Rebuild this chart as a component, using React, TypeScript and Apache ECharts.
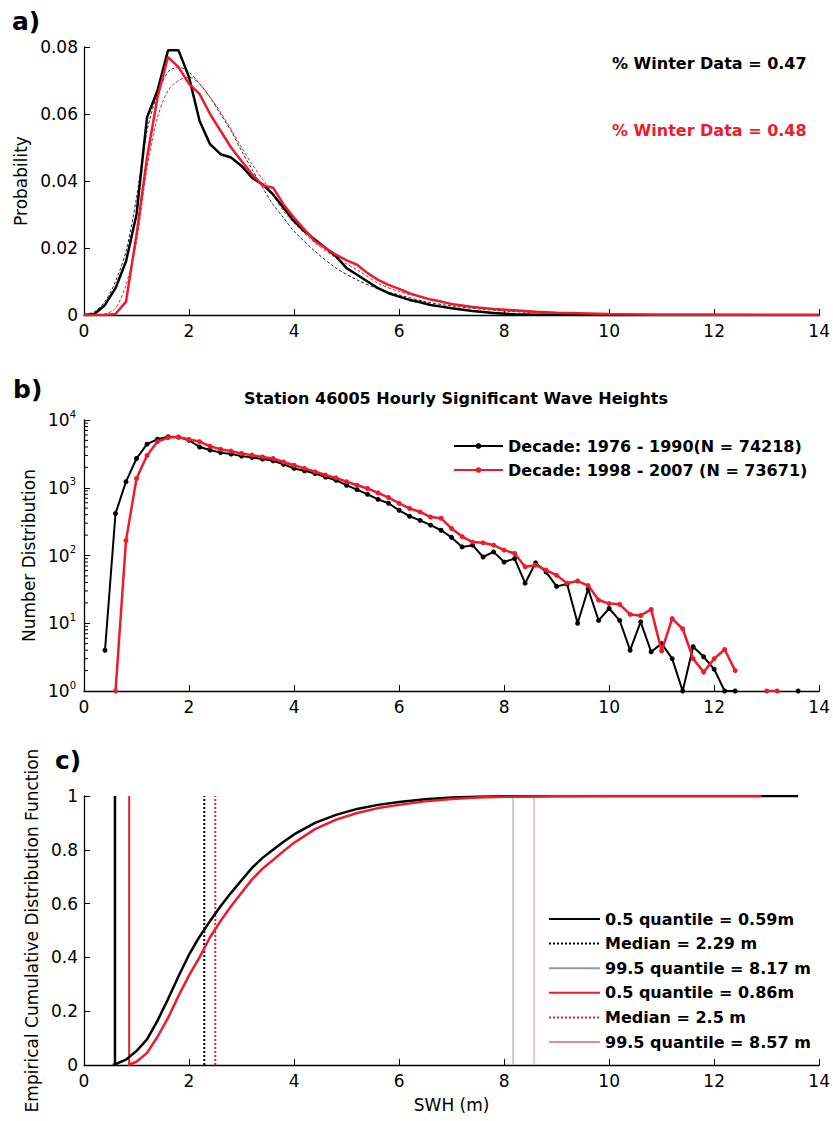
import React, { useEffect, useRef } from "react";
import * as echarts from "echarts";

const FONT = '"DejaVu Sans", sans-serif';
const RED = "#ee1b2c";

// ---- Panel a: probability distributions ----
const A_EMP_X = [0, 0.2, 0.4, 0.6, 0.8, 1.0, 1.2, 1.4, 1.6, 1.8, 2.0, 2.2, 2.4, 2.6, 2.8, 3.0, 3.2, 3.4, 3.6, 3.8, 4.0, 4.2, 4.4, 4.6, 4.8, 5.0, 5.2, 5.4, 5.6, 5.8, 6.0, 6.2, 6.4, 6.6, 6.8, 7.0, 7.4, 7.8, 8.2, 8.6, 9, 10, 11, 12, 13, 14];
const A_BLACK = [0, 0.0003, 0.003, 0.008, 0.016, 0.030, 0.059, 0.067, 0.079, 0.079, 0.071, 0.058, 0.051, 0.048, 0.047, 0.0445, 0.041, 0.039, 0.036, 0.032, 0.028, 0.025, 0.0225, 0.020, 0.0175, 0.014, 0.012, 0.010, 0.008, 0.0065, 0.0055, 0.0045, 0.0038, 0.003, 0.0025, 0.002, 0.0012, 0.0006, 0.0002, 0.0001, 0.00005, 0, 0, 0, 0, 0];
const A_RED = [0, 0, 0, 0.0003, 0.004, 0.024, 0.047, 0.065, 0.077, 0.074, 0.069, 0.066, 0.060, 0.055, 0.050, 0.046, 0.042, 0.0387, 0.038, 0.033, 0.029, 0.0255, 0.022, 0.020, 0.018, 0.0163, 0.015, 0.0125, 0.0105, 0.009, 0.0078, 0.0065, 0.0055, 0.0046, 0.004, 0.0033, 0.0024, 0.0018, 0.0014, 0.001, 0.0007, 0.0003, 0.0001, 0.00005, 0, 0];
const A_FIT_X = [0, 0.2, 0.4, 0.6, 0.8, 1.0, 1.2, 1.4, 1.6, 1.8, 2.0, 2.2, 2.4, 2.6, 2.8, 3.0, 3.2, 3.4, 3.6, 3.8, 4.0, 4.4, 4.8, 5.2, 5.6, 6.0, 6.5, 7, 8, 9, 10, 11, 12, 14];
const A_FIT_BLACK = [0, 0.001, 0.004, 0.010, 0.019, 0.035, 0.055, 0.066, 0.0725, 0.074, 0.0725, 0.069, 0.065, 0.060, 0.055, 0.049, 0.0435, 0.038, 0.033, 0.029, 0.025, 0.019, 0.014, 0.0105, 0.0078, 0.006, 0.004, 0.0027, 0.0012, 0.0005, 0.0002, 0.0001, 0, 0];
const A_FIT_RED = [0, 0, 0.0003, 0.002, 0.009, 0.022, 0.044, 0.059, 0.067, 0.070, 0.071, 0.069, 0.065, 0.0605, 0.0555, 0.050, 0.045, 0.0405, 0.036, 0.031, 0.0275, 0.0215, 0.017, 0.0135, 0.0095, 0.007, 0.005, 0.0033, 0.0014, 0.0006, 0.0002, 0.0001, 0, 0];
const WINTER_TEXTS = ["% Winter Data = 0.47", "% Winter Data = 0.48"];

// ---- Panel b: number distribution (log) ----
const B_X = [0.4, 0.6, 0.8, 1.0, 1.2, 1.4, 1.6, 1.8, 2.0, 2.2, 2.4, 2.6, 2.8, 3.0, 3.2, 3.4, 3.6, 3.8, 4.0, 4.2, 4.4, 4.6, 4.8, 5.0, 5.2, 5.4, 5.6, 5.8, 6.0, 6.2, 6.4, 6.6, 6.8, 7.0, 7.2, 7.4, 7.6, 7.8, 8.0, 8.2, 8.4, 8.6, 8.8, 9.0, 9.2, 9.4, 9.6, 9.8, 10.0, 10.2, 10.4, 10.6, 10.8, 11.0, 11.2, 11.4, 11.6, 11.8, 12.0, 12.2, 12.4, 12.6, 12.8, 13.0, 13.2, 13.4, 13.6];
const B_BLACK = [4, 417, 1230, 2700, 4400, 5200, 5660, 5600, 5030, 4000, 3600, 3300, 3150, 2930, 2800, 2650, 2500, 2220, 1930, 1780, 1620, 1440, 1290, 1090, 940, 800, 675, 590, 465, 380, 330, 280, 236, 185, 134, 142, 95, 113, 80, 90, 39, 78, 57, 35, 38, 10, 32, 11, 16.5, 11, 4, 10.5, 3.8, 5, 3, 1, 4.5, 3.2, 2.1, 1, 1, null, null, null, null, null, 1];
const B_RED = [null, 1, 167, 1370, 3000, 4800, 5500, 5600, 5150, 4800, 4100, 3700, 3470, 3200, 3030, 2850, 2700, 2400, 2150, 1930, 1720, 1540, 1400, 1230, 1090, 975, 840, 717, 590, 495, 440, 370, 355, 250, 190, 158, 154, 142, 120, 107, 68, 72, 61, 51, 39, 42, 36, 22, 19.5, 19, 13.5, 13, 16, 3.9, 11.7, 8.3, 3.0, 1.9, 3.0, 4.1, 2.0, null, null, 1, 1, null, null];
const B_NAMES = ["Decade: 1976 - 1990(N = 74218)", "Decade: 1998 - 2007 (N = 73671)"];
const B_TITLE = "Station 46005 Hourly Significant Wave Heights";

// ---- Panel c: ECDF ----
const C_BLACK_X = [0.55, 0.6, 0.8, 1.0, 1.2, 1.4, 1.6, 1.8, 2.0, 2.2, 2.4, 2.6, 2.8, 3.0, 3.2, 3.4, 3.6, 3.8, 4.0, 4.4, 4.8, 5.2, 5.6, 6.0, 6.5, 7.0, 7.5, 8.0, 9.0, 13.6];
const C_BLACK_Y = [0, 0.003, 0.02, 0.052, 0.095, 0.165, 0.245, 0.33, 0.41, 0.477, 0.535, 0.59, 0.64, 0.687, 0.733, 0.77, 0.80, 0.83, 0.857, 0.9, 0.93, 0.952, 0.967, 0.978, 0.988, 0.994, 0.997, 0.999, 1, 1];
const C_RED_X = [0.84, 1.0, 1.2, 1.4, 1.6, 1.8, 2.0, 2.2, 2.4, 2.6, 2.8, 3.0, 3.2, 3.4, 3.6, 3.8, 4.0, 4.4, 4.8, 5.2, 5.6, 6.0, 6.5, 7.0, 7.5, 8.0, 9.0, 10.0, 12.9];
const C_RED_Y = [0, 0.012, 0.045, 0.105, 0.175, 0.257, 0.333, 0.40, 0.475, 0.535, 0.59, 0.64, 0.69, 0.73, 0.762, 0.795, 0.826, 0.877, 0.912, 0.937, 0.955, 0.967, 0.98, 0.989, 0.994, 0.997, 0.999, 1, 1];
const Q_NAMES = ["0.5 quantile = 0.59m", "Median = 2.29 m", "99.5 quantile = 8.17 m", "0.5 quantile = 0.86m", "Median = 2.5 m", "99.5 quantile = 8.57 m"];
const Q_VALUES = [0.59, 2.29, 8.17, 0.86, 2.5, 8.57];
const Q_STYLES = [
  { color: "#000", width: 2.5, type: "solid" },
  { color: "#000", width: 2, type: [2, 2] },
  { color: "#9a9a9a", width: 1, type: "solid" },
  { color: RED, width: 2, type: "solid" },
  { color: RED, width: 2, type: [2, 2] },
  { color: "#e88a94", width: 1, type: "solid" },
];

const pairs = (xs: number[], ys: (number | null)[]) => xs.map((x, i) => [x, ys[i]]);

function xAx(gridIndex: number, extra: any = {}) {
  return {
    type: "value",
    gridIndex,
    min: 0,
    max: 14,
    interval: 2,
    axisLine: { show: true, onZero: false, lineStyle: { color: "#000", width: 1.3 } },
    axisTick: { show: true, inside: true, length: 6, lineStyle: { color: "#000", width: 1 } },
    axisLabel: { color: "#000", fontSize: 17, fontFamily: FONT, margin: 7 },
    splitLine: { show: false },
    ...extra,
  };
}

function yCommon(gridIndex: number, extra: any = {}) {
  return {
    gridIndex,
    axisLine: { show: true, onZero: false, lineStyle: { color: "#000", width: 1.3 } },
    axisTick: { show: true, inside: true, length: 6, lineStyle: { color: "#000", width: 1 } },
    axisLabel: { color: "#000", fontSize: 17, fontFamily: FONT, margin: 6 },
    splitLine: { show: false },
    nameLocation: "middle",
    nameTextStyle: { color: "#000", fontSize: 17, fontFamily: FONT },
    ...extra,
  };
}

export default function App() {
  const ref = useRef<HTMLDivElement>(null);
  useEffect(() => {
    if (!ref.current) return;
    const chart = echarts.init(ref.current, null, { renderer: "svg" });

    const minorTicks: number[][] = [];
    for (let k = 0; k < 4; k++) for (let m = 2; m <= 9; m++) minorTicks.push([0, m * Math.pow(10, k)]);

    const qSeries = Q_NAMES.map((name, i) => ({
      name,
      type: "line",
      xAxisIndex: 2,
      yAxisIndex: 2,
      data: [[Q_VALUES[i], 0], [Q_VALUES[i], 1]],
      symbol: "none",
      lineStyle: Q_STYLES[i],
      itemStyle: { color: Q_STYLES[i].color },
      z: 2,
    }));

    const option: any = {
      animation: false,
      backgroundColor: "#fff",
      grid: [
        { left: 84, top: 47, width: 737, height: 268 },
        { left: 84, top: 420, width: 737, height: 271 },
        { left: 84, top: 796, width: 737, height: 269 },
      ],
      xAxis: [
        xAx(0),
        xAx(1),
        xAx(2, {
          name: "SWH (m)",
          nameLocation: "middle",
          nameGap: 31,
          nameTextStyle: { color: "#000", fontSize: 17, fontFamily: FONT },
        }),
      ],
      yAxis: [
        yCommon(0, {
          type: "value",
          min: 0,
          max: 0.08,
          interval: 0.02,
          name: "Probability",
          nameGap: 52,
          axisLabel: {
            color: "#000", fontSize: 17, fontFamily: FONT, margin: 6,
            formatter: (v: number) => (v === 0 ? "0" : v.toFixed(2)),
          },
        }),
        yCommon(1, {
          type: "log",
          logBase: 10,
          min: 1,
          max: 10000,
          name: "Number Distribution",
          nameGap: 44,
          axisLabel: {
            color: "#000", fontFamily: FONT, margin: 8,
            formatter: (v: number) => "{b|10}{s|" + Math.round(Math.log10(v)) + "}",
            rich: {
              b: { fontSize: 17, fontFamily: FONT, color: "#000" },
              s: { fontSize: 10, fontFamily: FONT, color: "#000", padding: [0, 0, 12, 0] },
            },
          },
        }),
        yCommon(2, {
          type: "value",
          min: 0,
          max: 1,
          interval: 0.2,
          name: "Empirical Cumulative Distribution Function",
          nameGap: 41,
          axisLabel: {
            color: "#000", fontSize: 17, fontFamily: FONT, margin: 6,
            formatter: (v: number) => String(Math.round(v * 10) / 10),
          },
        }),
      ],
      legend: [
        {
          data: B_NAMES,
          orient: "vertical",
          left: 453,
          top: 437,
          padding: 0,
          itemWidth: 49,
          itemHeight: 7,
          itemGap: 6,
          selectedMode: false,
          textStyle: { fontFamily: FONT, fontWeight: "bold", fontSize: 16, color: "#000", lineHeight: 18 },
        },
        {
          data: Q_NAMES,
          orient: "vertical",
          left: 548,
          top: 910,
          padding: 0,
          itemWidth: 51,
          itemHeight: 10,
          itemGap: 6.6,
          selectedMode: false,
          itemStyle: { opacity: 0 },
          textStyle: { fontFamily: FONT, fontWeight: "bold", fontSize: 16, color: "#000", lineHeight: 18 },
        },
      ],
      series: [
        {
          type: "line", xAxisIndex: 0, yAxisIndex: 0, symbol: "none", smooth: 0.3,
          data: pairs(A_FIT_X, A_FIT_BLACK),
          lineStyle: { color: "#222", width: 1, type: [3, 2] }, z: 3,
        },
        {
          type: "line", xAxisIndex: 0, yAxisIndex: 0, symbol: "none", smooth: 0.3,
          data: pairs(A_FIT_X, A_FIT_RED),
          lineStyle: { color: RED, width: 1, type: [3, 2] }, z: 3,
        },
        {
          type: "line", xAxisIndex: 0, yAxisIndex: 0, symbol: "none",
          data: pairs(A_EMP_X, A_BLACK),
          lineStyle: { color: "#000", width: 2.5 }, z: 4,
        },
        {
          type: "line", xAxisIndex: 0, yAxisIndex: 0, symbol: "none",
          data: pairs(A_EMP_X, A_RED),
          lineStyle: { color: RED, width: 2.5 }, z: 5,
        },
        {
          name: B_NAMES[0],
          type: "line", xAxisIndex: 1, yAxisIndex: 1,
          symbol: "circle", symbolSize: 5,
          data: pairs(B_X, B_BLACK),
          lineStyle: { color: "#000", width: 2 },
          itemStyle: { color: "#000" }, z: 4,
        },
        {
          name: B_NAMES[1],
          type: "line", xAxisIndex: 1, yAxisIndex: 1,
          symbol: "circle", symbolSize: 5,
          data: pairs(B_X, B_RED),
          lineStyle: { color: RED, width: 2.5 },
          itemStyle: { color: RED }, z: 5,
        },
        {
          type: "custom", xAxisIndex: 1, yAxisIndex: 1, silent: true,
          data: minorTicks,
          renderItem: (params: any, api: any) => {
            const p = api.coord([api.value(0), api.value(1)]);
            return {
              type: "line",
              shape: { x1: p[0], y1: p[1], x2: p[0] + 4, y2: p[1] },
              style: { stroke: "#000", lineWidth: 1 },
            };
          },
        },
        ...qSeries,
        {
          type: "line", xAxisIndex: 2, yAxisIndex: 2, symbol: "none",
          data: pairs(C_BLACK_X, C_BLACK_Y),
          lineStyle: { color: "#000", width: 2.5 }, z: 4,
        },
        {
          type: "line", xAxisIndex: 2, yAxisIndex: 2, symbol: "none",
          data: pairs(C_RED_X, C_RED_Y),
          lineStyle: { color: RED, width: 2.5 }, z: 5,
        },
      ],
      graphic: [
        { type: "text", style: { text: "a)", x: 12, y: 21, verticalAlign: "middle", fontSize: 25, fontWeight: "bold", fontFamily: FONT, fill: "#000" } },
        { type: "text", style: { text: "b)", x: 13, y: 389, verticalAlign: "middle", fontSize: 25, fontWeight: "bold", fontFamily: FONT, fill: "#000" } },
        { type: "text", style: { text: "c)", x: 55, y: 760, verticalAlign: "middle", fontSize: 25, fontWeight: "bold", fontFamily: FONT, fill: "#000" } },
        { type: "text", style: { text: WINTER_TEXTS[0], x: 612, y: 63, verticalAlign: "middle", fontSize: 16, fontWeight: "bold", fontFamily: FONT, fill: "#000" } },
        { type: "text", style: { text: WINTER_TEXTS[1], x: 612, y: 130, verticalAlign: "middle", fontSize: 16, fontWeight: "bold", fontFamily: FONT, fill: RED } },
        { type: "text", style: { text: B_TITLE, x: 456, y: 398, align: "center", verticalAlign: "middle", fontSize: 16, fontWeight: "bold", fontFamily: FONT, fill: "#000" } },
      ],
    };
    chart.setOption(option);
    return () => chart.dispose();
  }, []);
  return (
    <div
      ref={ref}
      style={{ position: "absolute", left: 0, top: 0, width: 833, height: 1121, background: "#fff" }}
    />
  );
}
